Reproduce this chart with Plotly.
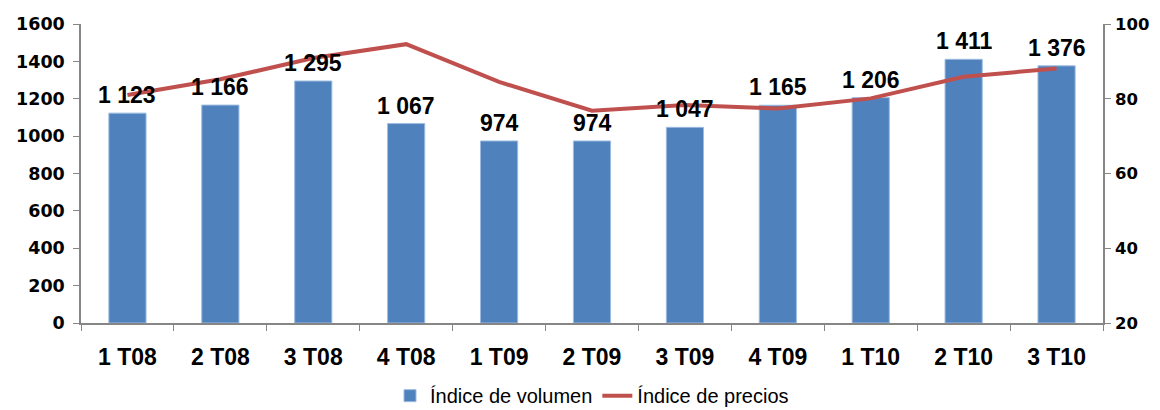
import plotly.graph_objects as go

categories = ["1 T08", "2 T08", "3 T08", "4 T08", "1 T09", "2 T09", "3 T09", "4 T09", "1 T10", "2 T10", "3 T10"]
volumen = [1123, 1166, 1295, 1067, 974, 974, 1047, 1165, 1206, 1411, 1376]
precios = [81.0, 85.2, 90.9, 94.6, 84.5, 76.8, 78.3, 77.4, 80.1, 85.9, 88.1]

labels = [f"{v:,}".replace(",", " ") for v in volumen]

SANS = "Liberation Sans, Arial, sans-serif"
WIDE = "DejaVu Sans, Verdana, sans-serif"
AXC = "#868686"
BIG_BOLD = dict(family=SANS, size=23, color="black", weight="bold")
TICK_BOLD = dict(family=WIDE, size=17.5, color="black", weight="bold")
TICK_BOLD_R = dict(family=WIDE, size=16.5, color="black", weight="bold")

fig = go.Figure()
fig.add_trace(go.Bar(
    x=categories, y=volumen, name="Índice de volumen",
    marker=dict(color="#4F81BD", line=dict(color="#9CBBE0", width=1)),
))
fig.add_trace(go.Scatter(
    x=categories, y=precios, name="Índice de precios", yaxis="y2",
    mode="lines", line=dict(color="#C0504D", width=4),
))

for c, v, t in zip(categories, volumen, labels):
    fig.add_annotation(x=c, y=v, xref="x", yref="y", text=t, showarrow=False,
                       yanchor="bottom", yshift=3, font=BIG_BOLD)

# page body has an 8px margin, so the figure is sized to fit the window
fig.update_layout(
    width=1152, height=402,
    margin=dict(l=73, r=57, t=16, b=87, autoexpand=False),
    plot_bgcolor="white", paper_bgcolor="white",
    font=dict(family=SANS, size=20, color="black"),
    bargap=0.6,
    showlegend=True,
    legend=dict(orientation="h", x=0.5, xanchor="center", y=-0.243, yanchor="middle",
                font=dict(family=SANS, size=20, color="black"),
                itemwidth=30, tracegroupgap=0),
    xaxis=dict(
        showline=True, linecolor=AXC, linewidth=1.5,
        ticks="outside", tickson="boundaries", ticklen=6, tickcolor=AXC,
        tickfont=BIG_BOLD, showgrid=False, ticklabelstandoff=13,
    ),
    yaxis=dict(
        range=[0, 1600], dtick=200, showgrid=False,
        showline=True, linecolor=AXC, linewidth=1.5,
        ticks="outside", ticklen=6, tickcolor=AXC,
        tickfont=TICK_BOLD, zeroline=False, ticklabelstandoff=5,
    ),
    yaxis2=dict(
        range=[20, 100], dtick=20, overlaying="y", side="right", showgrid=False,
        showline=True, linecolor=AXC, linewidth=1.5,
        ticks="outside", ticklen=6, tickcolor=AXC,
        tickfont=TICK_BOLD_R, zeroline=False, ticklabelstandoff=1,
    ),
)

fig.write_html("out.html")
